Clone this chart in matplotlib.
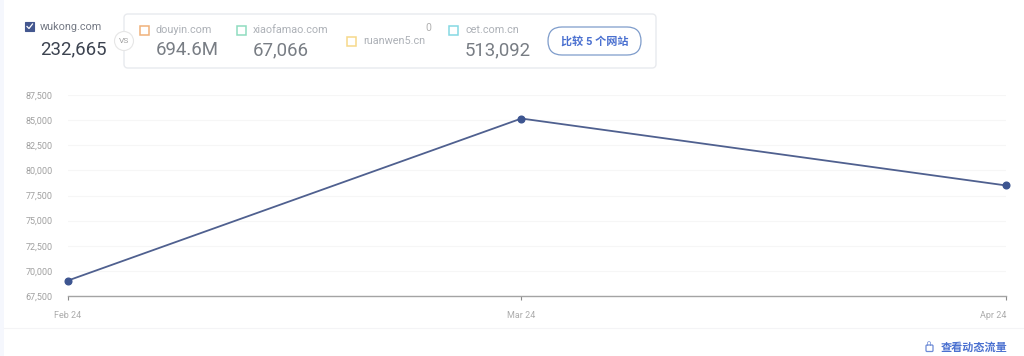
import matplotlib
matplotlib.use("Agg")
import matplotlib.pyplot as plt
import matplotlib.dates as mdates
from datetime import date
from matplotlib.patches import FancyBboxPatch, Rectangle, Circle

plt.rcParams['font.family'] = ['Roboto', 'Noto Sans CJK SC', 'DejaVu Sans']

months = [date(2024, 2, 1), date(2024, 3, 1), date(2024, 4, 1)]
month_labels = ['Feb 24', 'Mar 24', 'Apr 24']
visits = [69040, 85160, 78500]
y_ticks = [67500, 70000, 72500, 75000, 77500, 80000, 82500, 85000, 87500]

W, H = 1024, 356
fig = plt.figure(figsize=(W / 100, H / 100), dpi=100, facecolor='white')

bg = fig.add_axes([0, 0, 1, 1], zorder=0)
bg.set_xlim(0, W)
bg.set_ylim(H, 0)
bg.axis('off')

ax = fig.add_axes([68 / W, 1 - 296 / H, (1006 - 68) / W, (296 - 95) / H], zorder=2)
ax.patch.set_alpha(0)
ax.plot(months, visits, color='#4f608f', lw=1.3, marker='o', ms=4.8,
        mfc='#3d5590', mec='#3d5590', clip_on=False)
ax.set_xlim(months[0], months[-1])
ax.set_ylim(y_ticks[0], y_ticks[-1])
ax.set_yticks(y_ticks)
ax.set_yticklabels([f'{v:,}' for v in y_ticks], fontsize=6.5, color='#a0a0a0')
ax.set_xticks([mdates.date2num(m) for m in months])
ax.set_xticklabels(month_labels, fontsize=6.5, color='#acacac')
ax.get_xticklabels()[-1].set_ha('right')
ax.tick_params(axis='y', length=0, pad=11)
ax.tick_params(axis='x', length=3, width=0.8, color='#8a8a8a', pad=8, direction='out')
ax.grid(axis='y', color='#f6f6f6', lw=0.8)
for s in ['top', 'right', 'left']:
    ax.spines[s].set_visible(False)
ax.spines['bottom'].set_color('#a4a4a4')
ax.spines['bottom'].set_linewidth(1.0)

# Page frame
bg.add_patch(Rectangle((0, 0), 4, H, fc='#f5f7fd', ec='none'))
bg.plot([4, W], [328, 328], color='#f4f4f6', lw=0.8)

# Comparison card
bg.add_patch(FancyBboxPatch((124, 14), 532, 54, boxstyle='round,pad=0,rounding_size=4',
                            fc='white', ec='#e8eaee', lw=1.0))
bg.add_patch(Circle((124, 41), 9.5, fc='white', ec='#e6e6e6', lw=0.8, zorder=3))
bg.text(124, 41, 'VS', fontsize=6, color='#a0a0a0', ha='center', va='center', zorder=4)

# Primary site
bg.add_patch(Rectangle((25, 22), 9, 9, fc='#44578f', ec='#44578f', lw=0.8))
bg.plot([27, 29, 32.5], [26.5, 28.5, 24], color='white', lw=0.9)
bg.text(40, 26.5, 'wukong.com', fontsize=7.8, color='#757a85', va='center')
bg.text(40, 49, '232,665', fontsize=13.4, color='#3c4350', va='center')

# Competitor sites
names = ['douyin.com', 'xiaofamao.com', 'ruanwen5.cn', 'cet.com.cn']
values = ['694.6M', '67,066', '0', '513,092']
box_colors = ['#f0b27a', '#8fdcc0', '#f6d98a', '#85d9e3']
box_x = [140, 237, 347, 449]
name_y = [30, 30, 41, 30]
value_x = [156, 253, 431, 465]
value_y = [50, 50, 28, 50]
value_sizes = [13.4, 13.4, 7.5, 13.4]
value_ha = ['left', 'left', 'right', 'left']
for i in range(len(names)):
    bg.add_patch(Rectangle((box_x[i], name_y[i] - 4.5), 9, 9, fc='white', ec=box_colors[i], lw=1.1))
    bg.text(box_x[i] + 16, name_y[i], names[i], fontsize=7.8, color='#adb1b7', va='center')
    bg.text(value_x[i], value_y[i], values[i], fontsize=value_sizes[i],
            color='#b0b0b0' if i == 2 else '#787d84', va='center', ha=value_ha[i])

# Button
bg.add_patch(FancyBboxPatch((548, 27), 93, 28, boxstyle='round,pad=0,rounding_size=14',
                            fc='white', ec='#7e9ccb', lw=0.9))
bg.text(594.5, 41, '比较 5 个网站', fontsize=8, color='#4a70d0', ha='center', va='center',
        fontweight='bold')

# Footer link
bg.add_patch(FancyBboxPatch((926, 345), 7, 6.5, boxstyle='round,pad=0,rounding_size=1',
                            fc='white', ec='#6d8bd6', lw=0.9))
bg.text(929.5, 343.5, '∩', fontsize=6, color='#6d8bd6', ha='center', va='center',
        family='DejaVu Sans')
bg.text(1007, 348, '查看动态流量', fontsize=8, color='#4a70d0', ha='right', va='center',
        fontweight='bold')

fig.savefig('out.png', dpi=100, facecolor='white')
